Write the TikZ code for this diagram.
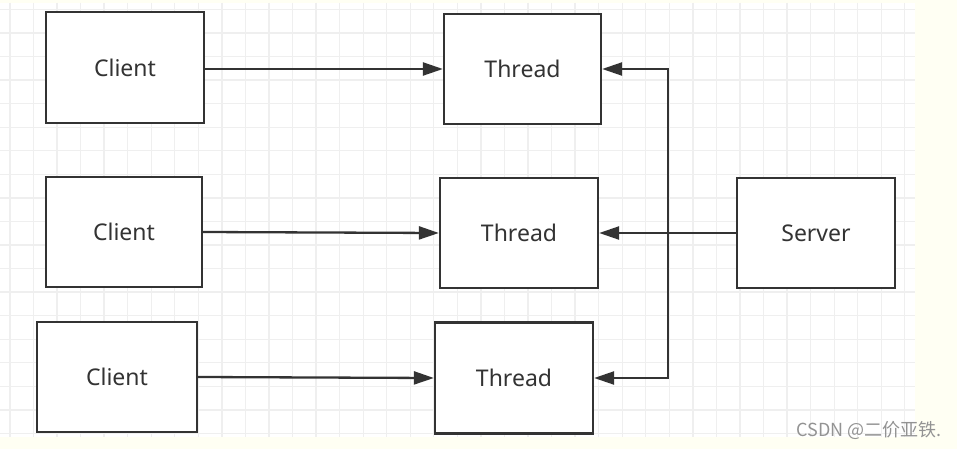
\documentclass[tikz,border=0pt]{standalone}
\usepackage{fontspec}
\setmainfont{Noto Sans}
\newfontfamily\cjk{Noto Sans CJK SC}
\usetikzlibrary{arrows.meta}
\definecolor{ink}{HTML}{333333}
\definecolor{gridc}{HTML}{EFEFEF}
\definecolor{bgy}{HTML}{FFFFF3}
\tikzset{
  box/.style={draw=ink, line width=2.3pt, fill=white, text=ink, font=\fontsize{23}{25}\selectfont, inner sep=0pt},
  conn/.style={draw=ink, line width=2.3pt},
  arr/.style={conn, -{Triangle[length=20pt,width=13pt]}},
}
\begin{document}
\begin{tikzpicture}[x=1pt,y=-1pt]
\useasboundingbox (0,0) rectangle (957,449);
\fill[bgy] (0,0) rectangle (957,449);
\fill[white] (0,3) rectangle (915,437);
\begin{scope}
\clip (0,3) rectangle (915,437);
\foreach \i in {-2,...,37} {\draw[gridc, line width=1.3pt] ({57+\i*23.55},3) -- ({57+\i*23.55},437);}
\foreach \i in {0,...,18} {\draw[gridc, line width=1.3pt] (0,{9.5+\i*23.55}) -- (915,{9.5+\i*23.55});}
\end{scope}
\node[box, minimum width=158pt, minimum height=111pt] (c1) at (125,67.5) {Client};
\node[box, minimum width=157pt, minimum height=110pt] (t1) at (522.5,69) {Thread};
\node[box, minimum width=156pt, minimum height=110pt] (c2) at (124,232) {Client};
\node[box, minimum width=158pt, minimum height=110pt] (t2) at (519,233) {Thread};
\node[box, minimum width=158pt, minimum height=110pt] (s) at (816,233) {Server};
\node[box, minimum width=160pt, minimum height=110pt] (c3) at (117,377) {Client};
\node[box, minimum width=158pt, minimum height=111pt] (t3) at (514,378) {Thread};
\draw[arr] (c1.east |- t1.west) -- (t1.west);
\draw[arr] (c2.east) -- (t2.west);
\draw[arr] (c3.east) -- (t3.west);
\coordinate (j) at (668,233);
\draw[conn] (s.west) -- (j);
\draw[arr] (j) -- (t2.east);
\draw[arr] (j) |- (t1.east);
\draw[arr] (j) |- (t3.east);
\node[anchor=east, text=gray!85, font=\cjk\fontsize{18}{20}\selectfont, inner sep=0pt] (wm) at (942,430) {CSDN @二价亚铁.};
\end{tikzpicture}
\end{document}
